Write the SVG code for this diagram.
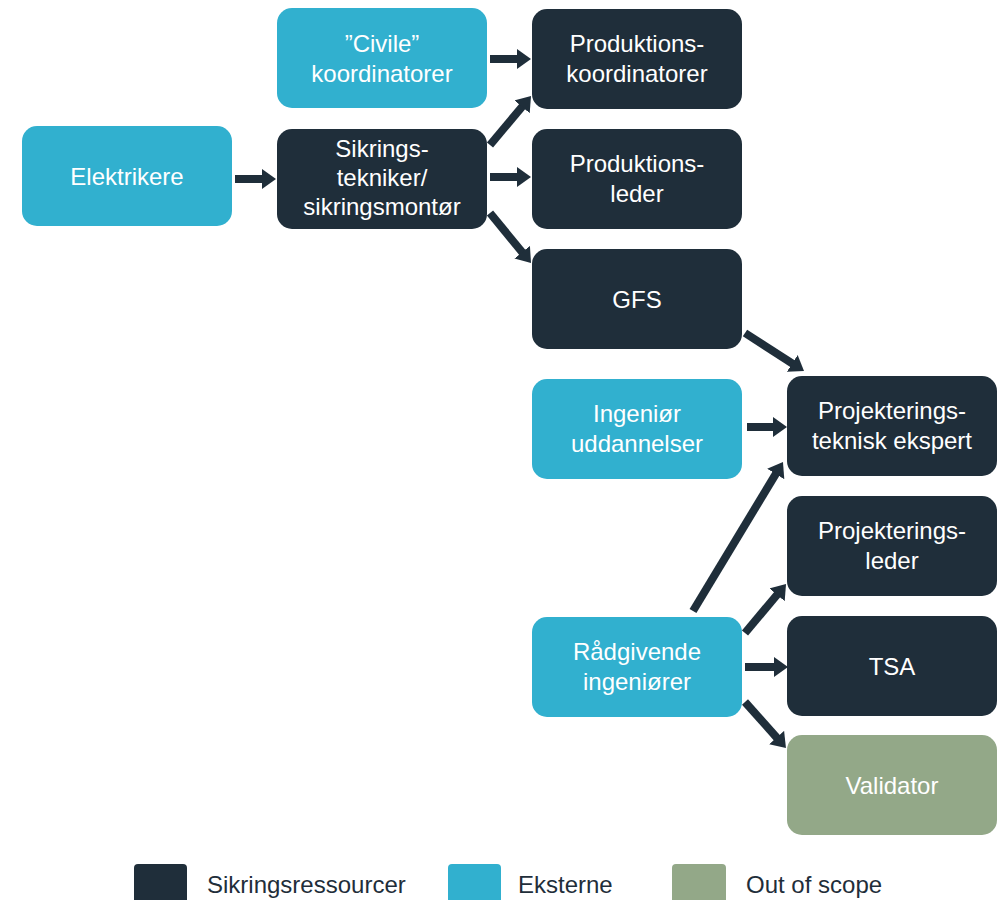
<svg xmlns="http://www.w3.org/2000/svg" width="1002" height="900" viewBox="0 0 1002 900">
<style>
.d{fill:#1F2E3A}
.b{fill:#31B0CF}
.g{fill:#93A888}
text{font-family:"Liberation Sans Narrow","Liberation Sans",Arial,sans-serif;font-size:24px;fill:#fff;text-anchor:middle}
.lg{fill:#1F2E3A;text-anchor:start}
.c line{stroke:#1F2E3A;stroke-width:8;marker-end:url(#ah)}
</style>
<defs>
<marker id="ah" markerUnits="userSpaceOnUse" markerWidth="14" markerHeight="20" refX="4" refY="10" orient="auto">
<path d="M0,0 L14,10 L0,20 z" fill="#1F2E3A"/>
</marker>
</defs>
<rect width="1002" height="900" fill="#fff"/>
<g id="elektrikere"><rect class="b" x="22" y="126" width="210" height="100" rx="15"/><text x="127" y="185">Elektrikere</text></g>
<g id="civile"><rect class="b" x="277" y="8" width="210" height="100" rx="15"/><text x="382" y="52">”Civile”</text><text x="382" y="82">koordinatorer</text></g>
<g id="sikrings"><rect class="d" x="277" y="129" width="210" height="100" rx="15"/><text x="382" y="157">Sikrings-</text><text x="382" y="186">tekniker/</text><text x="382" y="215">sikringsmontør</text></g>
<g id="prodkoord"><rect class="d" x="532" y="9" width="210" height="100" rx="15"/><text x="637" y="52">Produktions-</text><text x="637" y="82">koordinatorer</text></g>
<g id="prodleder"><rect class="d" x="532" y="129" width="210" height="100" rx="15"/><text x="637" y="172">Produktions-</text><text x="637" y="202">leder</text></g>
<g id="gfs"><rect class="d" x="532" y="249" width="210" height="100" rx="15"/><text x="637" y="308">GFS</text></g>
<g id="ingenior"><rect class="b" x="532" y="379" width="210" height="100" rx="15"/><text x="637" y="422">Ingeniør</text><text x="637" y="452">uddannelser</text></g>
<g id="projekspert"><rect class="d" x="787" y="376" width="210" height="100" rx="15"/><text x="892" y="419">Projekterings-</text><text x="892" y="449">teknisk ekspert</text></g>
<g id="projleder"><rect class="d" x="787" y="496" width="210" height="100" rx="15"/><text x="892" y="539">Projekterings-</text><text x="892" y="569">leder</text></g>
<g id="tsa"><rect class="d" x="787" y="616" width="210" height="100" rx="15"/><text x="892" y="675">TSA</text></g>
<g id="validator"><rect class="g" x="787" y="735" width="210" height="100" rx="15"/><text x="892" y="794">Validator</text></g>
<g id="raadgivende"><rect class="b" x="532" y="617" width="210" height="100" rx="15"/><text x="637" y="660">Rådgivende</text><text x="637" y="690">ingeniører</text></g>
<g id="connectors" class="c">
<line x1="235" y1="179" x2="266" y2="179"/>
<line x1="490" y1="59" x2="521" y2="59"/>
<line x1="490" y1="145" x2="524.6" y2="103.7"/>
<line x1="490" y1="177" x2="521" y2="177"/>
<line x1="490" y1="213" x2="524.7" y2="255.3"/>
<line x1="745" y1="333" x2="795.6" y2="365.6"/>
<line x1="747" y1="427" x2="777" y2="427"/>
<line x1="693" y1="611" x2="777.8" y2="470.6"/>
<line x1="745" y1="633" x2="779.6" y2="591.7"/>
<line x1="745" y1="667" x2="778" y2="667"/>
<line x1="745" y1="702" x2="779.3" y2="740.5"/>
</g>
<g id="legend">
<rect class="d" x="134" y="864" width="53" height="40" rx="4"/>
<text class="lg" x="207" y="893">Sikringsressourcer</text>
<rect class="b" x="448" y="864" width="53" height="40" rx="4"/>
<text class="lg" x="518" y="893">Eksterne</text>
<rect class="g" x="672" y="864" width="54" height="40" rx="4"/>
<text class="lg" x="746" y="893">Out of scope</text>
</g>
</svg>
